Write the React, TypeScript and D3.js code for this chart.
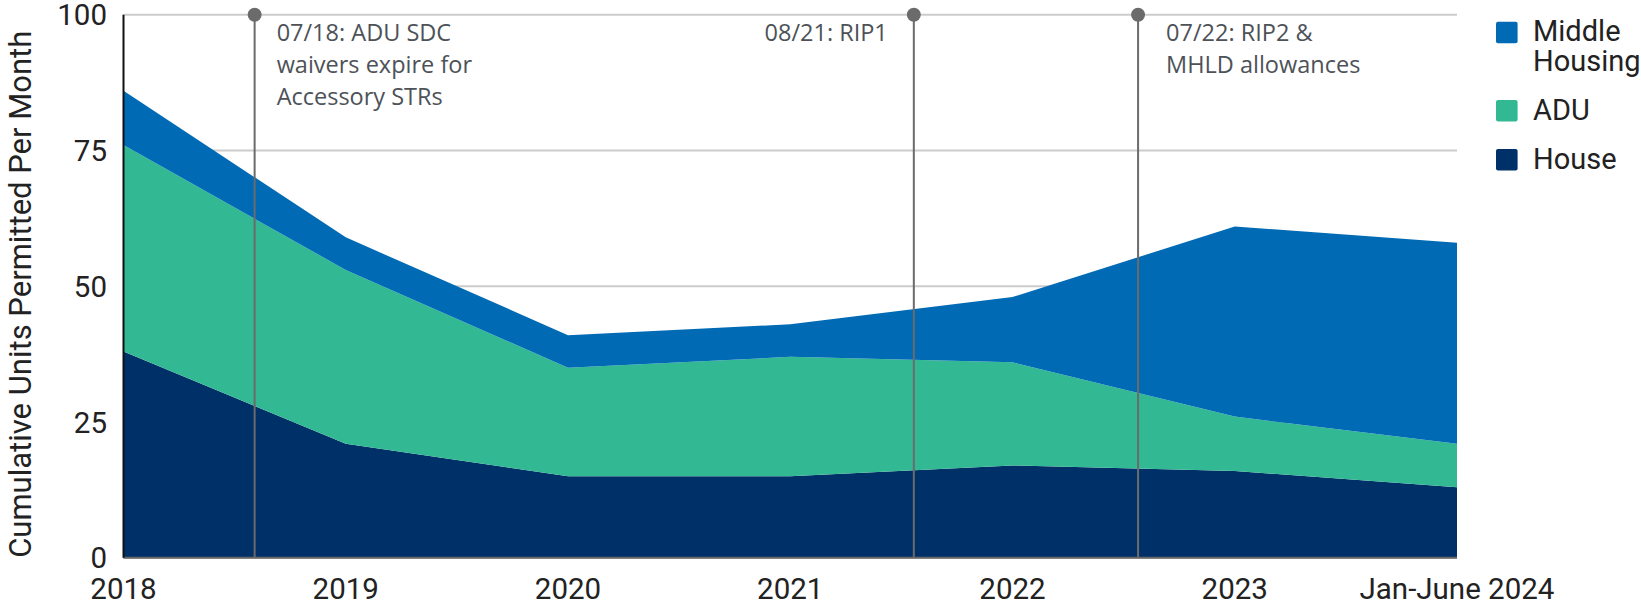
import React from "react";
import * as d3 from "d3";

const categories = ["2018", "2019", "2020", "2021", "2022", "2023", "Jan-June 2024"];
const yearPos = [2018, 2019, 2020, 2021, 2022, 2023, 2024];
const house = [38, 21, 15, 15, 17, 16, 13];
const adu = [38, 32, 20, 22, 19, 10, 8];
const middle = [10, 6, 6, 6, 12, 35, 37];
const yTicks = [0, 25, 50, 75, 100];

const seriesKeys = ["House", "ADU", "Middle Housing"];
const seriesColors = ["#003068", "#32B994", "#006AB5"];

const annotationPos = [2018.59, 2021.556, 2022.565];
const annotationLines = [
  ["07/18: ADU SDC", "waivers expire for", "Accessory STRs"],
  ["08/21: RIP1"],
  ["07/22: RIP2 &", "MHLD allowances"],
];
const annotationAnchor = ["start", "end", "start"];
const annotationOffset = [22, -26, 28];

const legendItems = [
  { lines: ["Middle", "Housing"], color: "#006AB5" },
  { lines: ["ADU"], color: "#32B994" },
  { lines: ["House"], color: "#003068" },
];

export default function App() {
  const W = 1641;
  const H = 605;
  const x = d3.scaleLinear().domain([2018, 2024]).range([123.5, 1457]);
  const y = d3.scaleLinear().domain([0, 100]).range([557.8, 14.7]);

  const rows = yearPos.map((yr, i) => ({
    yr,
    House: house[i],
    ADU: adu[i],
    "Middle Housing": middle[i],
  }));
  const stacked = d3.stack<any>().keys(seriesKeys)(rows);
  const area = d3
    .area<any>()
    .x((d) => x(d.data.yr))
    .y0((d) => y(d[0]))
    .y1((d) => y(d[1]));

  const tickFont = "Roboto, 'Noto Sans', sans-serif";
  const annFont = "'Open Sans', 'Noto Sans', sans-serif";

  return (
    <svg
      width={W}
      height={H}
      style={{ position: "absolute", left: 0, top: 0, background: "#fff" }}
    >
      {yTicks.map((t) => (
        <line
          key={"g" + t}
          x1={x(2018)}
          x2={x(2024)}
          y1={y(t)}
          y2={y(t)}
          stroke="#cccccc"
          strokeWidth={2}
        />
      ))}
      {stacked.map((s, i) => (
        <path key={s.key} d={area(s) || ""} fill={seriesColors[i]} />
      ))}
      <line x1={x(2018)} x2={x(2024)} y1={y(0)} y2={y(0)} stroke="#666" strokeWidth={2} />
      <line x1={x(2018)} x2={x(2018)} y1={y(100)} y2={y(0)} stroke="#111" strokeWidth={2} />
      {yTicks.map((t) => (
        <text
          key={"yt" + t}
          x={107}
          y={y(t)}
          dy="0.36em"
          textAnchor="end"
          fontFamily={tickFont}
          fontSize={29.5}
          fill="#222"
        >
          {t}
        </text>
      ))}
      {categories.map((c, i) => (
        <text
          key={"xt" + c}
          x={x(yearPos[i])}
          y={598.5}
          textAnchor="middle"
          fontFamily={tickFont}
          fontSize={29.5}
          fill="#222"
        >
          {c}
        </text>
      ))}
      <text
        transform={`translate(31, ${y(50) + 8}) rotate(-90)`}
        textAnchor="middle"
        fontFamily={tickFont}
        fontSize={31}
        fill="#222"
      >
        Cumulative Units Permitted Per Month
      </text>
      {annotationPos.map((p, i) => (
        <g key={"a" + i}>
          <line x1={x(p)} x2={x(p)} y1={y(100)} y2={y(0)} stroke="#6b6b6b" strokeWidth={2} />
          <circle cx={x(p)} cy={y(100)} r={7} fill="#6b6b6b" />
          {annotationLines[i].map((l, j) => (
            <text
              key={j}
              x={x(p) + annotationOffset[i]}
              y={40.7 + j * 32.2}
              textAnchor={annotationAnchor[i]}
              fontFamily={annFont}
              fontSize={23.5}
              fill="#4d5258"
            >
              {l}
            </text>
          ))}
        </g>
      ))}
      {legendItems.map((it, i) => {
        const tops = [21.7, 100, 149];
        const top = tops[i];
        return (
          <g key={"l" + i}>
            <rect x={1496} y={top} width={21.6} height={21.6} rx={2} fill={it.color} />
            {it.lines.map((l, j) => (
              <text
                key={j}
                x={1533}
                y={top + 19.5 + j * 29.5}
                fontFamily={tickFont}
                fontSize={29}
                fill="#222"
              >
                {l}
              </text>
            ))}
          </g>
        );
      })}
    </svg>
  );
}
